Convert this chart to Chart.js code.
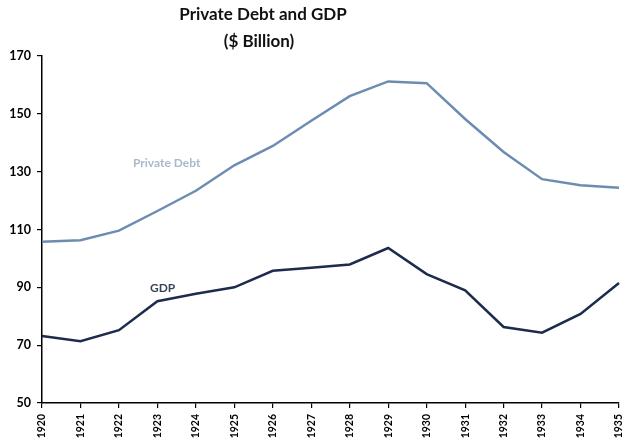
<!DOCTYPE html>
<html>
<head>
<meta charset="utf-8">
<script src="https://cdn.jsdelivr.net/npm/chart.js@4"></script>
<style>
  html, body { margin: 0; padding: 0; background: #fff; }
  #wrap { width: 626px; height: 443px; position: relative; }
</style>
</head>
<body>
<div id="wrap"><canvas id="chart"></canvas></div>
<script>
// --- data ---
const years = ['1920', '1921', '1922', '1923', '1924', '1925', '1926', '1927',
  '1928', '1929', '1930', '1931', '1932', '1933', '1934', '1935'];
const privateDebt = [105.8, 106.3, 109.6, 116.4, 123.4, 132.2, 138.9, 147.6,
  156.1, 161.2, 160.6, 148.2, 136.8, 127.4, 125.3, 124.4];
const gdp = [73.2, 71.4, 75.2, 85.2, 87.8, 90.0, 95.7, 96.8,
  97.9, 103.6, 94.6, 89.0, 76.3, 74.3, 80.8, 91.5];
const yTicks = [50, 70, 90, 110, 130, 150, 170];

const FONT = 'Lato, "Open Sans", sans-serif';

// title and in-chart series labels
const annotations = {
  id: 'annotations',
  afterDraw(chart) {
    const { ctx } = chart;
    ctx.save();
    ctx.textAlign = 'center';
    ctx.textBaseline = 'middle';
    ctx.fillStyle = '#111';
    ctx.font = 'bold 17px ' + FONT;
    ctx.fillText('Private Debt and GDP', 263, 15);
    ctx.fillText('($ Billion)', 259, 42);

    ctx.textAlign = 'left';
    ctx.font = 'bold 12px ' + FONT;
    ctx.fillStyle = '#a9b9cc';
    ctx.fillText('Private Debt', 133, 163);
    ctx.fillStyle = '#3a4458';
    ctx.fillText('GDP', 150, 288);
    ctx.restore();
  }
};

new Chart(document.getElementById('chart'), {
  type: 'line',
  data: {
    labels: years,
    datasets: [
      { label: 'Private Debt', data: privateDebt, borderColor: '#6d8cb1', borderWidth: 2.5, pointRadius: 0, tension: 0 },
      { label: 'GDP', data: gdp, borderColor: '#1d2b4c', borderWidth: 2.5, pointRadius: 0, tension: 0 }
    ]
  },
  options: {
    responsive: true,
    maintainAspectRatio: false,
    animation: false,
    layout: { padding: { top: 56, right: 0, left: 0, bottom: 0 } },
    plugins: { legend: { display: false }, tooltip: { enabled: false } },
    scales: {
      x: {
        offset: false,
        grid: { display: true, drawOnChartArea: false, drawTicks: true, tickLength: 5, color: '#000', lineWidth: 1.2 },
        border: { color: '#000', width: 1.5 },
        ticks: {
          autoSkip: false, minRotation: 90, maxRotation: 90, padding: 6,
          color: '#000', font: { family: FONT, size: 10.5, weight: 'bold' }
        },
        afterFit(scale) { scale.height = 40; scale.paddingRight = 7; }
      },
      y: {
        min: 50, max: 170,
        afterBuildTicks(scale) { scale.ticks = yTicks.map(v => ({ value: v })); },
        grid: { display: true, drawOnChartArea: false, drawTicks: true, tickLength: 5, color: '#000', lineWidth: 1.2 },
        border: { color: '#000', width: 1.5 },
        ticks: { padding: 6, color: '#000', font: { family: FONT, size: 12.5, weight: 'bold' } },
        afterFit(scale) { scale.width = 42; }
      }
    }
  },
  plugins: [annotations]
});
</script>
</body>
</html>
